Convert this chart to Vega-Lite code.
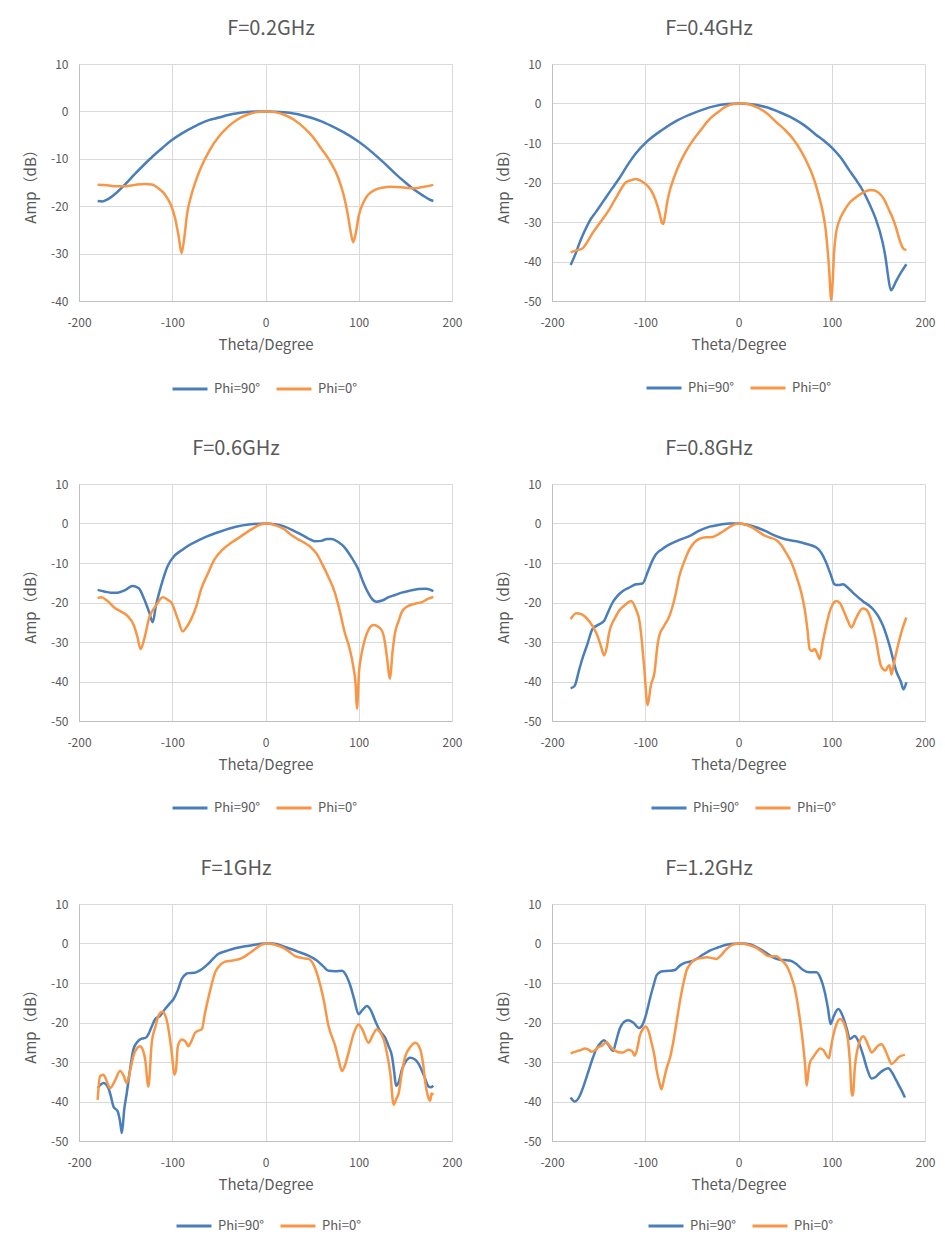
{
"$schema": "https://vega.github.io/schema/vega-lite/v6.json",
"padding": {"left": 23, "top": 19, "right": 5, "bottom": 5},
"background": "white",
"datasets": {
"d": [
{"p":"0.2","s":"Phi=90°","t":-180,"a":-18.9},{"p":"0.2","s":"Phi=90°","t":-175,"a":-19.0},{"p":"0.2","s":"Phi=90°","t":-170,"a":-18.6},{"p":"0.2","s":"Phi=90°","t":-160,"a":-17.2},{"p":"0.2","s":"Phi=90°","t":-150,"a":-15.3},{"p":"0.2","s":"Phi=90°","t":-140,"a":-13.2},{"p":"0.2","s":"Phi=90°","t":-130,"a":-11.2},{"p":"0.2","s":"Phi=90°","t":-120,"a":-9.3},{"p":"0.2","s":"Phi=90°","t":-110,"a":-7.6},{"p":"0.2","s":"Phi=90°","t":-100,"a":-6.0},{"p":"0.2","s":"Phi=90°","t":-90,"a":-4.7},{"p":"0.2","s":"Phi=90°","t":-80,"a":-3.6},{"p":"0.2","s":"Phi=90°","t":-70,"a":-2.6},{"p":"0.2","s":"Phi=90°","t":-60,"a":-1.8},{"p":"0.2","s":"Phi=90°","t":-50,"a":-1.3},{"p":"0.2","s":"Phi=90°","t":-40,"a":-0.75},{"p":"0.2","s":"Phi=90°","t":-30,"a":-0.38},{"p":"0.2","s":"Phi=90°","t":-20,"a":-0.15},{"p":"0.2","s":"Phi=90°","t":-10,"a":-0.04},{"p":"0.2","s":"Phi=90°","t":0,"a":0},{"p":"0.2","s":"Phi=90°","t":10,"a":-0.05},{"p":"0.2","s":"Phi=90°","t":20,"a":-0.2},{"p":"0.2","s":"Phi=90°","t":30,"a":-0.45},{"p":"0.2","s":"Phi=90°","t":40,"a":-0.85},{"p":"0.2","s":"Phi=90°","t":50,"a":-1.4},{"p":"0.2","s":"Phi=90°","t":60,"a":-2.1},{"p":"0.2","s":"Phi=90°","t":70,"a":-3.0},{"p":"0.2","s":"Phi=90°","t":80,"a":-4.0},{"p":"0.2","s":"Phi=90°","t":90,"a":-5.1},{"p":"0.2","s":"Phi=90°","t":100,"a":-6.4},{"p":"0.2","s":"Phi=90°","t":110,"a":-7.9},{"p":"0.2","s":"Phi=90°","t":120,"a":-9.6},{"p":"0.2","s":"Phi=90°","t":130,"a":-11.4},{"p":"0.2","s":"Phi=90°","t":140,"a":-13.3},{"p":"0.2","s":"Phi=90°","t":150,"a":-15.0},{"p":"0.2","s":"Phi=90°","t":160,"a":-16.6},{"p":"0.2","s":"Phi=90°","t":170,"a":-17.9},{"p":"0.2","s":"Phi=90°","t":175,"a":-18.5},{"p":"0.2","s":"Phi=90°","t":180,"a":-18.9},
{"p":"0.2","s":"Phi=0°","t":-180,"a":-15.5},{"p":"0.2","s":"Phi=0°","t":-170,"a":-15.6},{"p":"0.2","s":"Phi=0°","t":-160,"a":-15.8},{"p":"0.2","s":"Phi=0°","t":-150,"a":-15.8},{"p":"0.2","s":"Phi=0°","t":-140,"a":-15.5},{"p":"0.2","s":"Phi=0°","t":-130,"a":-15.3},{"p":"0.2","s":"Phi=0°","t":-122,"a":-15.4},{"p":"0.2","s":"Phi=0°","t":-115,"a":-16.2},{"p":"0.2","s":"Phi=0°","t":-108,"a":-17.5},{"p":"0.2","s":"Phi=0°","t":-102,"a":-19.5},{"p":"0.2","s":"Phi=0°","t":-97,"a":-22.5},{"p":"0.2","s":"Phi=0°","t":-93,"a":-26.5},{"p":"0.2","s":"Phi=0°","t":-90,"a":-29.9},{"p":"0.2","s":"Phi=0°","t":-87,"a":-26.5},{"p":"0.2","s":"Phi=0°","t":-84,"a":-21.5},{"p":"0.2","s":"Phi=0°","t":-80,"a":-18},{"p":"0.2","s":"Phi=0°","t":-75,"a":-14.8},{"p":"0.2","s":"Phi=0°","t":-70,"a":-12.2},{"p":"0.2","s":"Phi=0°","t":-60,"a":-8.2},{"p":"0.2","s":"Phi=0°","t":-50,"a":-5.3},{"p":"0.2","s":"Phi=0°","t":-40,"a":-3.2},{"p":"0.2","s":"Phi=0°","t":-30,"a":-1.7},{"p":"0.2","s":"Phi=0°","t":-20,"a":-0.7},{"p":"0.2","s":"Phi=0°","t":-10,"a":-0.15},{"p":"0.2","s":"Phi=0°","t":0,"a":0},{"p":"0.2","s":"Phi=0°","t":10,"a":-0.15},{"p":"0.2","s":"Phi=0°","t":20,"a":-0.7},{"p":"0.2","s":"Phi=0°","t":30,"a":-1.7},{"p":"0.2","s":"Phi=0°","t":40,"a":-3.2},{"p":"0.2","s":"Phi=0°","t":50,"a":-5.2},{"p":"0.2","s":"Phi=0°","t":60,"a":-7.9},{"p":"0.2","s":"Phi=0°","t":70,"a":-10.8},{"p":"0.2","s":"Phi=0°","t":78,"a":-14.0},{"p":"0.2","s":"Phi=0°","t":84,"a":-17.8},{"p":"0.2","s":"Phi=0°","t":88,"a":-21.5},{"p":"0.2","s":"Phi=0°","t":91,"a":-25},{"p":"0.2","s":"Phi=0°","t":94,"a":-27.6},{"p":"0.2","s":"Phi=0°","t":97,"a":-25.5},{"p":"0.2","s":"Phi=0°","t":100,"a":-22},{"p":"0.2","s":"Phi=0°","t":105,"a":-19.2},{"p":"0.2","s":"Phi=0°","t":110,"a":-17.6},{"p":"0.2","s":"Phi=0°","t":118,"a":-16.5},{"p":"0.2","s":"Phi=0°","t":125,"a":-16.1},{"p":"0.2","s":"Phi=0°","t":135,"a":-15.9},{"p":"0.2","s":"Phi=0°","t":150,"a":-16.1},{"p":"0.2","s":"Phi=0°","t":160,"a":-16.2},{"p":"0.2","s":"Phi=0°","t":170,"a":-15.9},{"p":"0.2","s":"Phi=0°","t":180,"a":-15.5},
{"p":"0.4","s":"Phi=90°","t":-180,"a":-40.9},{"p":"0.4","s":"Phi=90°","t":-175,"a":-38.2},{"p":"0.4","s":"Phi=90°","t":-170,"a":-35},{"p":"0.4","s":"Phi=90°","t":-165,"a":-32.3},{"p":"0.4","s":"Phi=90°","t":-160,"a":-29.9},{"p":"0.4","s":"Phi=90°","t":-153,"a":-27.5},{"p":"0.4","s":"Phi=90°","t":-146,"a":-25.1},{"p":"0.4","s":"Phi=90°","t":-137,"a":-22},{"p":"0.4","s":"Phi=90°","t":-128,"a":-19},{"p":"0.4","s":"Phi=90°","t":-119,"a":-15.6},{"p":"0.4","s":"Phi=90°","t":-110,"a":-12.6},{"p":"0.4","s":"Phi=90°","t":-98,"a":-9.6},{"p":"0.4","s":"Phi=90°","t":-82,"a":-6.7},{"p":"0.4","s":"Phi=90°","t":-68,"a":-4.6},{"p":"0.4","s":"Phi=90°","t":-53,"a":-2.9},{"p":"0.4","s":"Phi=90°","t":-39,"a":-1.6},{"p":"0.4","s":"Phi=90°","t":-24.5,"a":-0.6},{"p":"0.4","s":"Phi=90°","t":-12,"a":-0.15},{"p":"0.4","s":"Phi=90°","t":0,"a":0},{"p":"0.4","s":"Phi=90°","t":12,"a":-0.15},{"p":"0.4","s":"Phi=90°","t":29,"a":-0.9},{"p":"0.4","s":"Phi=90°","t":44,"a":-2.2},{"p":"0.4","s":"Phi=90°","t":58,"a":-3.7},{"p":"0.4","s":"Phi=90°","t":71,"a":-5.6},{"p":"0.4","s":"Phi=90°","t":83,"a":-7.9},{"p":"0.4","s":"Phi=90°","t":92,"a":-9.5},{"p":"0.4","s":"Phi=90°","t":100.6,"a":-11.3},{"p":"0.4","s":"Phi=90°","t":110,"a":-13.8},{"p":"0.4","s":"Phi=90°","t":118.5,"a":-16.8},{"p":"0.4","s":"Phi=90°","t":126,"a":-19.3},{"p":"0.4","s":"Phi=90°","t":133,"a":-21.9},{"p":"0.4","s":"Phi=90°","t":140,"a":-25.2},{"p":"0.4","s":"Phi=90°","t":147,"a":-29.1},{"p":"0.4","s":"Phi=90°","t":154,"a":-34.6},{"p":"0.4","s":"Phi=90°","t":158,"a":-39.5},{"p":"0.4","s":"Phi=90°","t":160,"a":-43},{"p":"0.4","s":"Phi=90°","t":163.4,"a":-47.3},{"p":"0.4","s":"Phi=90°","t":165,"a":-46.9},{"p":"0.4","s":"Phi=90°","t":168.8,"a":-45.1},{"p":"0.4","s":"Phi=90°","t":174,"a":-42.9},{"p":"0.4","s":"Phi=90°","t":180,"a":-40.7},
{"p":"0.4","s":"Phi=0°","t":-180,"a":-37.7},{"p":"0.4","s":"Phi=0°","t":-174,"a":-37.2},{"p":"0.4","s":"Phi=0°","t":-167.5,"a":-36.7},{"p":"0.4","s":"Phi=0°","t":-162,"a":-35},{"p":"0.4","s":"Phi=0°","t":-156.7,"a":-32.9},{"p":"0.4","s":"Phi=0°","t":-148,"a":-30},{"p":"0.4","s":"Phi=0°","t":-139,"a":-27},{"p":"0.4","s":"Phi=0°","t":-130,"a":-23.3},{"p":"0.4","s":"Phi=0°","t":-121,"a":-20},{"p":"0.4","s":"Phi=0°","t":-115,"a":-19.4},{"p":"0.4","s":"Phi=0°","t":-110,"a":-19.1},{"p":"0.4","s":"Phi=0°","t":-103,"a":-19.8},{"p":"0.4","s":"Phi=0°","t":-97,"a":-21},{"p":"0.4","s":"Phi=0°","t":-94,"a":-21.9},{"p":"0.4","s":"Phi=0°","t":-89,"a":-24.4},{"p":"0.4","s":"Phi=0°","t":-85,"a":-27.5},{"p":"0.4","s":"Phi=0°","t":-82,"a":-30.2},{"p":"0.4","s":"Phi=0°","t":-80.6,"a":-30.5},{"p":"0.4","s":"Phi=0°","t":-78.5,"a":-28},{"p":"0.4","s":"Phi=0°","t":-76,"a":-24.4},{"p":"0.4","s":"Phi=0°","t":-67.5,"a":-17.7},{"p":"0.4","s":"Phi=0°","t":-58,"a":-12.8},{"p":"0.4","s":"Phi=0°","t":-49.6,"a":-9.6},{"p":"0.4","s":"Phi=0°","t":-40,"a":-6.6},{"p":"0.4","s":"Phi=0°","t":-31.6,"a":-4.1},{"p":"0.4","s":"Phi=0°","t":-22,"a":-2.2},{"p":"0.4","s":"Phi=0°","t":-13.8,"a":-0.8},{"p":"0.4","s":"Phi=0°","t":-5,"a":-0.1},{"p":"0.4","s":"Phi=0°","t":4,"a":0},{"p":"0.4","s":"Phi=0°","t":13,"a":-0.3},{"p":"0.4","s":"Phi=0°","t":22,"a":-1.2},{"p":"0.4","s":"Phi=0°","t":31,"a":-2.6},{"p":"0.4","s":"Phi=0°","t":40,"a":-4.6},{"p":"0.4","s":"Phi=0°","t":49,"a":-6.5},{"p":"0.4","s":"Phi=0°","t":58,"a":-8.8},{"p":"0.4","s":"Phi=0°","t":67,"a":-12},{"p":"0.4","s":"Phi=0°","t":75.6,"a":-16},{"p":"0.4","s":"Phi=0°","t":81,"a":-19.2},{"p":"0.4","s":"Phi=0°","t":86,"a":-23.2},{"p":"0.4","s":"Phi=0°","t":90,"a":-27},{"p":"0.4","s":"Phi=0°","t":93.5,"a":-32},{"p":"0.4","s":"Phi=0°","t":97,"a":-41.3},{"p":"0.4","s":"Phi=0°","t":99.5,"a":-49.8},{"p":"0.4","s":"Phi=0°","t":101,"a":-45},{"p":"0.4","s":"Phi=0°","t":102.4,"a":-38},{"p":"0.4","s":"Phi=0°","t":104.5,"a":-33},{"p":"0.4","s":"Phi=0°","t":107.8,"a":-29.9},{"p":"0.4","s":"Phi=0°","t":113,"a":-27.3},{"p":"0.4","s":"Phi=0°","t":118.5,"a":-25.3},{"p":"0.4","s":"Phi=0°","t":125,"a":-23.9},{"p":"0.4","s":"Phi=0°","t":133,"a":-22.6},{"p":"0.4","s":"Phi=0°","t":141.7,"a":-21.9},{"p":"0.4","s":"Phi=0°","t":146,"a":-22},{"p":"0.4","s":"Phi=0°","t":150.7,"a":-22.7},{"p":"0.4","s":"Phi=0°","t":156,"a":-24.2},{"p":"0.4","s":"Phi=0°","t":161.5,"a":-27},{"p":"0.4","s":"Phi=0°","t":165,"a":-28.8},{"p":"0.4","s":"Phi=0°","t":168.6,"a":-31.2},{"p":"0.4","s":"Phi=0°","t":174,"a":-35.4},{"p":"0.4","s":"Phi=0°","t":177,"a":-36.8},{"p":"0.4","s":"Phi=0°","t":180,"a":-37.1},
{"p":"0.6","s":"Phi=90°","t":-180,"a":-16.8},{"p":"0.6","s":"Phi=90°","t":-173,"a":-17.2},{"p":"0.6","s":"Phi=90°","t":-166,"a":-17.5},{"p":"0.6","s":"Phi=90°","t":-158.7,"a":-17.5},{"p":"0.6","s":"Phi=90°","t":-150,"a":-16.8},{"p":"0.6","s":"Phi=90°","t":-142.6,"a":-15.8},{"p":"0.6","s":"Phi=90°","t":-138,"a":-16.1},{"p":"0.6","s":"Phi=90°","t":-135.5,"a":-16.5},{"p":"0.6","s":"Phi=90°","t":-130,"a":-19.2},{"p":"0.6","s":"Phi=90°","t":-124.7,"a":-22.5},{"p":"0.6","s":"Phi=90°","t":-121,"a":-25},{"p":"0.6","s":"Phi=90°","t":-117.5,"a":-20.8},{"p":"0.6","s":"Phi=90°","t":-112,"a":-15.8},{"p":"0.6","s":"Phi=90°","t":-105,"a":-10.8},{"p":"0.6","s":"Phi=90°","t":-97.8,"a":-8.2},{"p":"0.6","s":"Phi=90°","t":-90,"a":-6.8},{"p":"0.6","s":"Phi=90°","t":-83.4,"a":-5.7},{"p":"0.6","s":"Phi=90°","t":-72,"a":-4.3},{"p":"0.6","s":"Phi=90°","t":-62,"a":-3.2},{"p":"0.6","s":"Phi=90°","t":-48,"a":-2},{"p":"0.6","s":"Phi=90°","t":-33,"a":-0.9},{"p":"0.6","s":"Phi=90°","t":-16,"a":-0.2},{"p":"0.6","s":"Phi=90°","t":0,"a":0},{"p":"0.6","s":"Phi=90°","t":10,"a":-0.2},{"p":"0.6","s":"Phi=90°","t":20.6,"a":-0.8},{"p":"0.6","s":"Phi=90°","t":30,"a":-1.8},{"p":"0.6","s":"Phi=90°","t":38.6,"a":-2.8},{"p":"0.6","s":"Phi=90°","t":46,"a":-3.8},{"p":"0.6","s":"Phi=90°","t":53,"a":-4.5},{"p":"0.6","s":"Phi=90°","t":60,"a":-4.4},{"p":"0.6","s":"Phi=90°","t":66,"a":-3.9},{"p":"0.6","s":"Phi=90°","t":71,"a":-3.9},{"p":"0.6","s":"Phi=90°","t":78,"a":-4.7},{"p":"0.6","s":"Phi=90°","t":85,"a":-6.1},{"p":"0.6","s":"Phi=90°","t":92,"a":-8.5},{"p":"0.6","s":"Phi=90°","t":99.5,"a":-11.6},{"p":"0.6","s":"Phi=90°","t":105,"a":-15},{"p":"0.6","s":"Phi=90°","t":110,"a":-17.5},{"p":"0.6","s":"Phi=90°","t":115,"a":-19.3},{"p":"0.6","s":"Phi=90°","t":119,"a":-19.8},{"p":"0.6","s":"Phi=90°","t":125,"a":-19.5},{"p":"0.6","s":"Phi=90°","t":131.6,"a":-18.7},{"p":"0.6","s":"Phi=90°","t":139,"a":-18.1},{"p":"0.6","s":"Phi=90°","t":146,"a":-17.5},{"p":"0.6","s":"Phi=90°","t":155,"a":-17},{"p":"0.6","s":"Phi=90°","t":164,"a":-16.6},{"p":"0.6","s":"Phi=90°","t":172,"a":-16.5},{"p":"0.6","s":"Phi=90°","t":180,"a":-17.1},
{"p":"0.6","s":"Phi=0°","t":-180,"a":-18.9},{"p":"0.6","s":"Phi=0°","t":-176,"a":-18.7},{"p":"0.6","s":"Phi=0°","t":-170,"a":-19.5},{"p":"0.6","s":"Phi=0°","t":-162,"a":-21.3},{"p":"0.6","s":"Phi=0°","t":-155,"a":-22.3},{"p":"0.6","s":"Phi=0°","t":-148,"a":-23.4},{"p":"0.6","s":"Phi=0°","t":-141,"a":-25.9},{"p":"0.6","s":"Phi=0°","t":-137.3,"a":-28.8},{"p":"0.6","s":"Phi=0°","t":-134,"a":-31.8},{"p":"0.6","s":"Phi=0°","t":-130,"a":-29.2},{"p":"0.6","s":"Phi=0°","t":-124.7,"a":-23.8},{"p":"0.6","s":"Phi=0°","t":-117.5,"a":-20.8},{"p":"0.6","s":"Phi=0°","t":-110,"a":-18.7},{"p":"0.6","s":"Phi=0°","t":-105,"a":-19.3},{"p":"0.6","s":"Phi=0°","t":-101,"a":-20},{"p":"0.6","s":"Phi=0°","t":-94,"a":-24.2},{"p":"0.6","s":"Phi=0°","t":-88.7,"a":-27.3},{"p":"0.6","s":"Phi=0°","t":-84,"a":-26},{"p":"0.6","s":"Phi=0°","t":-79.7,"a":-24.2},{"p":"0.6","s":"Phi=0°","t":-74,"a":-20.8},{"p":"0.6","s":"Phi=0°","t":-69,"a":-16.6},{"p":"0.6","s":"Phi=0°","t":-62,"a":-12.8},{"p":"0.6","s":"Phi=0°","t":-54.7,"a":-9.1},{"p":"0.6","s":"Phi=0°","t":-46,"a":-6.6},{"p":"0.6","s":"Phi=0°","t":-36.8,"a":-4.9},{"p":"0.6","s":"Phi=0°","t":-26,"a":-3.2},{"p":"0.6","s":"Phi=0°","t":-15.2,"a":-1.5},{"p":"0.6","s":"Phi=0°","t":-6,"a":-0.3},{"p":"0.6","s":"Phi=0°","t":2.7,"a":0},{"p":"0.6","s":"Phi=0°","t":10,"a":-0.4},{"p":"0.6","s":"Phi=0°","t":20.6,"a":-1.5},{"p":"0.6","s":"Phi=0°","t":28,"a":-3},{"p":"0.6","s":"Phi=0°","t":35,"a":-4},{"p":"0.6","s":"Phi=0°","t":42,"a":-4.9},{"p":"0.6","s":"Phi=0°","t":49,"a":-6.1},{"p":"0.6","s":"Phi=0°","t":55,"a":-7.7},{"p":"0.6","s":"Phi=0°","t":60,"a":-9.9},{"p":"0.6","s":"Phi=0°","t":67,"a":-13.3},{"p":"0.6","s":"Phi=0°","t":74.4,"a":-17.5},{"p":"0.6","s":"Phi=0°","t":80,"a":-22.5},{"p":"0.6","s":"Phi=0°","t":85,"a":-27.6},{"p":"0.6","s":"Phi=0°","t":90,"a":-31.5},{"p":"0.6","s":"Phi=0°","t":94,"a":-36},{"p":"0.6","s":"Phi=0°","t":96.7,"a":-41},{"p":"0.6","s":"Phi=0°","t":98,"a":-46.9},{"p":"0.6","s":"Phi=0°","t":100.3,"a":-37.6},{"p":"0.6","s":"Phi=0°","t":103,"a":-33},{"p":"0.6","s":"Phi=0°","t":106.8,"a":-29.2},{"p":"0.6","s":"Phi=0°","t":111,"a":-26.7},{"p":"0.6","s":"Phi=0°","t":115.8,"a":-25.7},{"p":"0.6","s":"Phi=0°","t":120,"a":-26},{"p":"0.6","s":"Phi=0°","t":124.8,"a":-27.1},{"p":"0.6","s":"Phi=0°","t":128,"a":-30},{"p":"0.6","s":"Phi=0°","t":130,"a":-33.4},{"p":"0.6","s":"Phi=0°","t":133.6,"a":-39.3},{"p":"0.6","s":"Phi=0°","t":136,"a":-33},{"p":"0.6","s":"Phi=0°","t":139,"a":-27.6},{"p":"0.6","s":"Phi=0°","t":143,"a":-24.5},{"p":"0.6","s":"Phi=0°","t":146,"a":-22.5},{"p":"0.6","s":"Phi=0°","t":152,"a":-21},{"p":"0.6","s":"Phi=0°","t":160.5,"a":-20.3},{"p":"0.6","s":"Phi=0°","t":168,"a":-19.9},{"p":"0.6","s":"Phi=0°","t":174,"a":-19.1},{"p":"0.6","s":"Phi=0°","t":180,"a":-18.6},
{"p":"0.8","s":"Phi=90°","t":-180,"a":-41.7},{"p":"0.8","s":"Phi=90°","t":-176,"a":-41.2},{"p":"0.8","s":"Phi=90°","t":-170.6,"a":-36.8},{"p":"0.8","s":"Phi=90°","t":-167,"a":-33.9},{"p":"0.8","s":"Phi=90°","t":-162,"a":-30.5},{"p":"0.8","s":"Phi=90°","t":-156.6,"a":-26.7},{"p":"0.8","s":"Phi=90°","t":-150,"a":-25.6},{"p":"0.8","s":"Phi=90°","t":-144,"a":-24.6},{"p":"0.8","s":"Phi=90°","t":-140,"a":-22.5},{"p":"0.8","s":"Phi=90°","t":-135,"a":-20},{"p":"0.8","s":"Phi=90°","t":-130,"a":-18.4},{"p":"0.8","s":"Phi=90°","t":-124,"a":-17.1},{"p":"0.8","s":"Phi=90°","t":-117,"a":-16.2},{"p":"0.8","s":"Phi=90°","t":-110,"a":-15.4},{"p":"0.8","s":"Phi=90°","t":-103,"a":-15.2},{"p":"0.8","s":"Phi=90°","t":-97,"a":-12},{"p":"0.8","s":"Phi=90°","t":-92,"a":-9.2},{"p":"0.8","s":"Phi=90°","t":-88.5,"a":-7.8},{"p":"0.8","s":"Phi=90°","t":-82,"a":-6.5},{"p":"0.8","s":"Phi=90°","t":-74,"a":-5.3},{"p":"0.8","s":"Phi=90°","t":-64,"a":-4.2},{"p":"0.8","s":"Phi=90°","t":-52.7,"a":-3.2},{"p":"0.8","s":"Phi=90°","t":-42,"a":-1.8},{"p":"0.8","s":"Phi=90°","t":-31,"a":-0.8},{"p":"0.8","s":"Phi=90°","t":-20,"a":-0.3},{"p":"0.8","s":"Phi=90°","t":-9.7,"a":0},{"p":"0.8","s":"Phi=90°","t":0,"a":0},{"p":"0.8","s":"Phi=90°","t":15.4,"a":-0.7},{"p":"0.8","s":"Phi=90°","t":28,"a":-1.8},{"p":"0.8","s":"Phi=90°","t":40.5,"a":-3.2},{"p":"0.8","s":"Phi=90°","t":50,"a":-4},{"p":"0.8","s":"Phi=90°","t":62,"a":-4.5},{"p":"0.8","s":"Phi=90°","t":73,"a":-5.2},{"p":"0.8","s":"Phi=90°","t":83.5,"a":-6.1},{"p":"0.8","s":"Phi=90°","t":89,"a":-7.5},{"p":"0.8","s":"Phi=90°","t":94,"a":-9.9},{"p":"0.8","s":"Phi=90°","t":99,"a":-13},{"p":"0.8","s":"Phi=90°","t":103,"a":-15.4},{"p":"0.8","s":"Phi=90°","t":107,"a":-15.6},{"p":"0.8","s":"Phi=90°","t":112,"a":-15.4},{"p":"0.8","s":"Phi=90°","t":117,"a":-16.2},{"p":"0.8","s":"Phi=90°","t":122.6,"a":-17.5},{"p":"0.8","s":"Phi=90°","t":133,"a":-19.6},{"p":"0.8","s":"Phi=90°","t":144.4,"a":-21.7},{"p":"0.8","s":"Phi=90°","t":150,"a":-23.5},{"p":"0.8","s":"Phi=90°","t":155,"a":-25.9},{"p":"0.8","s":"Phi=90°","t":162,"a":-30.9},{"p":"0.8","s":"Phi=90°","t":169.5,"a":-37.6},{"p":"0.8","s":"Phi=90°","t":174,"a":-40},{"p":"0.8","s":"Phi=90°","t":177,"a":-42},{"p":"0.8","s":"Phi=90°","t":180,"a":-40.2},
{"p":"0.8","s":"Phi=0°","t":-180,"a":-24.2},{"p":"0.8","s":"Phi=0°","t":-174,"a":-22.7},{"p":"0.8","s":"Phi=0°","t":-168,"a":-23},{"p":"0.8","s":"Phi=0°","t":-163.6,"a":-23.8},{"p":"0.8","s":"Phi=0°","t":-156.6,"a":-25.9},{"p":"0.8","s":"Phi=0°","t":-152,"a":-28},{"p":"0.8","s":"Phi=0°","t":-147.7,"a":-30.9},{"p":"0.8","s":"Phi=0°","t":-144,"a":-33.4},{"p":"0.8","s":"Phi=0°","t":-141,"a":-31},{"p":"0.8","s":"Phi=0°","t":-138.7,"a":-27.6},{"p":"0.8","s":"Phi=0°","t":-133,"a":-24.2},{"p":"0.8","s":"Phi=0°","t":-128,"a":-22.1},{"p":"0.8","s":"Phi=0°","t":-121,"a":-20.5},{"p":"0.8","s":"Phi=0°","t":-115.4,"a":-19.6},{"p":"0.8","s":"Phi=0°","t":-110,"a":-21.7},{"p":"0.8","s":"Phi=0°","t":-106,"a":-25},{"p":"0.8","s":"Phi=0°","t":-104.6,"a":-27.6},{"p":"0.8","s":"Phi=0°","t":-101,"a":-36.8},{"p":"0.8","s":"Phi=0°","t":-97.5,"a":-46},{"p":"0.8","s":"Phi=0°","t":-94,"a":-41},{"p":"0.8","s":"Phi=0°","t":-90,"a":-37.6},{"p":"0.8","s":"Phi=0°","t":-87,"a":-31},{"p":"0.8","s":"Phi=0°","t":-85,"a":-28.4},{"p":"0.8","s":"Phi=0°","t":-80,"a":-26},{"p":"0.8","s":"Phi=0°","t":-74,"a":-23.4},{"p":"0.8","s":"Phi=0°","t":-68,"a":-18.5},{"p":"0.8","s":"Phi=0°","t":-63.4,"a":-13.3},{"p":"0.8","s":"Phi=0°","t":-58,"a":-9.5},{"p":"0.8","s":"Phi=0°","t":-52.7,"a":-6.6},{"p":"0.8","s":"Phi=0°","t":-47,"a":-4.7},{"p":"0.8","s":"Phi=0°","t":-42,"a":-3.9},{"p":"0.8","s":"Phi=0°","t":-35,"a":-3.5},{"p":"0.8","s":"Phi=0°","t":-27.6,"a":-3.4},{"p":"0.8","s":"Phi=0°","t":-20,"a":-2.5},{"p":"0.8","s":"Phi=0°","t":-13.3,"a":-1.5},{"p":"0.8","s":"Phi=0°","t":-6,"a":-0.4},{"p":"0.8","s":"Phi=0°","t":1,"a":0},{"p":"0.8","s":"Phi=0°","t":8,"a":-0.3},{"p":"0.8","s":"Phi=0°","t":15.4,"a":-1.1},{"p":"0.8","s":"Phi=0°","t":20,"a":-1.8},{"p":"0.8","s":"Phi=0°","t":26,"a":-2.8},{"p":"0.8","s":"Phi=0°","t":33,"a":-3.5},{"p":"0.8","s":"Phi=0°","t":40.5,"a":-4.2},{"p":"0.8","s":"Phi=0°","t":46,"a":-5.5},{"p":"0.8","s":"Phi=0°","t":51,"a":-7.4},{"p":"0.8","s":"Phi=0°","t":57,"a":-10},{"p":"0.8","s":"Phi=0°","t":62,"a":-13.3},{"p":"0.8","s":"Phi=0°","t":67,"a":-17.2},{"p":"0.8","s":"Phi=0°","t":71,"a":-21.7},{"p":"0.8","s":"Phi=0°","t":74,"a":-27},{"p":"0.8","s":"Phi=0°","t":76.3,"a":-31.8},{"p":"0.8","s":"Phi=0°","t":79,"a":-32.3},{"p":"0.8","s":"Phi=0°","t":81.7,"a":-31.8},{"p":"0.8","s":"Phi=0°","t":84.5,"a":-33},{"p":"0.8","s":"Phi=0°","t":87,"a":-34.3},{"p":"0.8","s":"Phi=0°","t":90,"a":-30.5},{"p":"0.8","s":"Phi=0°","t":94,"a":-25.9},{"p":"0.8","s":"Phi=0°","t":99,"a":-21.5},{"p":"0.8","s":"Phi=0°","t":105,"a":-19.6},{"p":"0.8","s":"Phi=0°","t":109,"a":-20.2},{"p":"0.8","s":"Phi=0°","t":112,"a":-21.7},{"p":"0.8","s":"Phi=0°","t":117,"a":-24.5},{"p":"0.8","s":"Phi=0°","t":121,"a":-26.3},{"p":"0.8","s":"Phi=0°","t":126,"a":-24},{"p":"0.8","s":"Phi=0°","t":133,"a":-21.5},{"p":"0.8","s":"Phi=0°","t":137,"a":-21.8},{"p":"0.8","s":"Phi=0°","t":142,"a":-24.2},{"p":"0.8","s":"Phi=0°","t":147,"a":-29},{"p":"0.8","s":"Phi=0°","t":152.6,"a":-35.9},{"p":"0.8","s":"Phi=0°","t":155.5,"a":-37},{"p":"0.8","s":"Phi=0°","t":158,"a":-37.2},{"p":"0.8","s":"Phi=0°","t":160,"a":-36.3},{"p":"0.8","s":"Phi=0°","t":162,"a":-35.9},{"p":"0.8","s":"Phi=0°","t":164,"a":-38.2},{"p":"0.8","s":"Phi=0°","t":167,"a":-35},{"p":"0.8","s":"Phi=0°","t":171,"a":-30.9},{"p":"0.8","s":"Phi=0°","t":176,"a":-26.5},{"p":"0.8","s":"Phi=0°","t":180,"a":-23.8},
{"p":"1","s":"Phi=90°","t":-180,"a":-36.6},{"p":"1","s":"Phi=90°","t":-177,"a":-35.8},{"p":"1","s":"Phi=90°","t":-173.9,"a":-35.3},{"p":"1","s":"Phi=90°","t":-168.5,"a":-36.6},{"p":"1","s":"Phi=90°","t":-166,"a":-38.5},{"p":"1","s":"Phi=90°","t":-163,"a":-41.3},{"p":"1","s":"Phi=90°","t":-158.5,"a":-42.5},{"p":"1","s":"Phi=90°","t":-156,"a":-45},{"p":"1","s":"Phi=90°","t":-154,"a":-48},{"p":"1","s":"Phi=90°","t":-151.5,"a":-42},{"p":"1","s":"Phi=90°","t":-148.8,"a":-37.9},{"p":"1","s":"Phi=90°","t":-145,"a":-31.5},{"p":"1","s":"Phi=90°","t":-141.7,"a":-26.8},{"p":"1","s":"Phi=90°","t":-137,"a":-24.8},{"p":"1","s":"Phi=90°","t":-132.7,"a":-24.1},{"p":"1","s":"Phi=90°","t":-128,"a":-23.8},{"p":"1","s":"Phi=90°","t":-125.6,"a":-23},{"p":"1","s":"Phi=90°","t":-122,"a":-21},{"p":"1","s":"Phi=90°","t":-118.4,"a":-19.2},{"p":"1","s":"Phi=90°","t":-113,"a":-18.3},{"p":"1","s":"Phi=90°","t":-107.7,"a":-16.6},{"p":"1","s":"Phi=90°","t":-102,"a":-15},{"p":"1","s":"Phi=90°","t":-98.7,"a":-14.1},{"p":"1","s":"Phi=90°","t":-94,"a":-11.8},{"p":"1","s":"Phi=90°","t":-89.8,"a":-9},{"p":"1","s":"Phi=90°","t":-85,"a":-7.7},{"p":"1","s":"Phi=90°","t":-82.6,"a":-7.5},{"p":"1","s":"Phi=90°","t":-76,"a":-7.4},{"p":"1","s":"Phi=90°","t":-68.3,"a":-6.5},{"p":"1","s":"Phi=90°","t":-60,"a":-4.8},{"p":"1","s":"Phi=90°","t":-50.4,"a":-2.6},{"p":"1","s":"Phi=90°","t":-42,"a":-1.9},{"p":"1","s":"Phi=90°","t":-32.6,"a":-1.2},{"p":"1","s":"Phi=90°","t":-16,"a":-0.5},{"p":"1","s":"Phi=90°","t":0,"a":0},{"p":"1","s":"Phi=90°","t":8,"a":0},{"p":"1","s":"Phi=90°","t":21,"a":-0.9},{"p":"1","s":"Phi=90°","t":34,"a":-2},{"p":"1","s":"Phi=90°","t":46,"a":-3.1},{"p":"1","s":"Phi=90°","t":55,"a":-4.3},{"p":"1","s":"Phi=90°","t":62,"a":-5.8},{"p":"1","s":"Phi=90°","t":67.6,"a":-6.9},{"p":"1","s":"Phi=90°","t":75,"a":-7},{"p":"1","s":"Phi=90°","t":82,"a":-6.9},{"p":"1","s":"Phi=90°","t":87,"a":-8.3},{"p":"1","s":"Phi=90°","t":91,"a":-10.7},{"p":"1","s":"Phi=90°","t":95,"a":-14},{"p":"1","s":"Phi=90°","t":99.8,"a":-17.9},{"p":"1","s":"Phi=90°","t":104,"a":-16.8},{"p":"1","s":"Phi=90°","t":108.8,"a":-15.8},{"p":"1","s":"Phi=90°","t":113,"a":-16.9},{"p":"1","s":"Phi=90°","t":117.7,"a":-19.6},{"p":"1","s":"Phi=90°","t":123,"a":-22.2},{"p":"1","s":"Phi=90°","t":128.4,"a":-23.9},{"p":"1","s":"Phi=90°","t":132,"a":-26},{"p":"1","s":"Phi=90°","t":135.6,"a":-28.5},{"p":"1","s":"Phi=90°","t":138,"a":-32.5},{"p":"1","s":"Phi=90°","t":140,"a":-36},{"p":"1","s":"Phi=90°","t":143,"a":-35},{"p":"1","s":"Phi=90°","t":146.3,"a":-31.9},{"p":"1","s":"Phi=90°","t":150,"a":-30},{"p":"1","s":"Phi=90°","t":155.2,"a":-28.9},{"p":"1","s":"Phi=90°","t":160,"a":-29.3},{"p":"1","s":"Phi=90°","t":164,"a":-30.4},{"p":"1","s":"Phi=90°","t":170,"a":-33.5},{"p":"1","s":"Phi=90°","t":174.9,"a":-36.2},{"p":"1","s":"Phi=90°","t":177,"a":-36.4},{"p":"1","s":"Phi=90°","t":180,"a":-36},
{"p":"1","s":"Phi=0°","t":-180,"a":-39.6},{"p":"1","s":"Phi=0°","t":-177.5,"a":-33.6},{"p":"1","s":"Phi=0°","t":-173.9,"a":-33.2},{"p":"1","s":"Phi=0°","t":-170,"a":-35},{"p":"1","s":"Phi=0°","t":-166.7,"a":-36.6},{"p":"1","s":"Phi=0°","t":-161,"a":-34.5},{"p":"1","s":"Phi=0°","t":-156,"a":-32.3},{"p":"1","s":"Phi=0°","t":-152,"a":-33.5},{"p":"1","s":"Phi=0°","t":-148.8,"a":-35.3},{"p":"1","s":"Phi=0°","t":-145,"a":-32},{"p":"1","s":"Phi=0°","t":-141.7,"a":-28.5},{"p":"1","s":"Phi=0°","t":-137,"a":-26.3},{"p":"1","s":"Phi=0°","t":-134.5,"a":-26},{"p":"1","s":"Phi=0°","t":-131,"a":-27.3},{"p":"1","s":"Phi=0°","t":-129,"a":-29.4},{"p":"1","s":"Phi=0°","t":-125.6,"a":-36.2},{"p":"1","s":"Phi=0°","t":-122,"a":-25.1},{"p":"1","s":"Phi=0°","t":-118,"a":-21},{"p":"1","s":"Phi=0°","t":-114.8,"a":-18.3},{"p":"1","s":"Phi=0°","t":-110.6,"a":-17.3},{"p":"1","s":"Phi=0°","t":-107,"a":-18.5},{"p":"1","s":"Phi=0°","t":-104,"a":-21.7},{"p":"1","s":"Phi=0°","t":-100.5,"a":-27.7},{"p":"1","s":"Phi=0°","t":-97.7,"a":-33.2},{"p":"1","s":"Phi=0°","t":-96,"a":-32},{"p":"1","s":"Phi=0°","t":-94,"a":-26},{"p":"1","s":"Phi=0°","t":-89.8,"a":-24.3},{"p":"1","s":"Phi=0°","t":-86,"a":-24.8},{"p":"1","s":"Phi=0°","t":-82.6,"a":-26},{"p":"1","s":"Phi=0°","t":-79,"a":-24.5},{"p":"1","s":"Phi=0°","t":-75.5,"a":-22.6},{"p":"1","s":"Phi=0°","t":-70,"a":-21.9},{"p":"1","s":"Phi=0°","t":-68.3,"a":-21.7},{"p":"1","s":"Phi=0°","t":-64.8,"a":-17.5},{"p":"1","s":"Phi=0°","t":-60,"a":-12.5},{"p":"1","s":"Phi=0°","t":-54,"a":-7.3},{"p":"1","s":"Phi=0°","t":-48,"a":-5.3},{"p":"1","s":"Phi=0°","t":-43.3,"a":-4.6},{"p":"1","s":"Phi=0°","t":-35,"a":-4.3},{"p":"1","s":"Phi=0°","t":-25.4,"a":-3.7},{"p":"1","s":"Phi=0°","t":-18,"a":-2.6},{"p":"1","s":"Phi=0°","t":-11,"a":-1.4},{"p":"1","s":"Phi=0°","t":-4,"a":-0.3},{"p":"1","s":"Phi=0°","t":3.2,"a":0},{"p":"1","s":"Phi=0°","t":10,"a":-0.3},{"p":"1","s":"Phi=0°","t":17.5,"a":-0.9},{"p":"1","s":"Phi=0°","t":25,"a":-2},{"p":"1","s":"Phi=0°","t":31.8,"a":-3.2},{"p":"1","s":"Phi=0°","t":40,"a":-3.7},{"p":"1","s":"Phi=0°","t":46,"a":-3.9},{"p":"1","s":"Phi=0°","t":52,"a":-5.6},{"p":"1","s":"Phi=0°","t":57,"a":-9},{"p":"1","s":"Phi=0°","t":62,"a":-13.8},{"p":"1","s":"Phi=0°","t":67.6,"a":-20.9},{"p":"1","s":"Phi=0°","t":74.8,"a":-26},{"p":"1","s":"Phi=0°","t":78,"a":-29},{"p":"1","s":"Phi=0°","t":82,"a":-32.3},{"p":"1","s":"Phi=0°","t":85,"a":-31},{"p":"1","s":"Phi=0°","t":89,"a":-27.7},{"p":"1","s":"Phi=0°","t":95,"a":-22.5},{"p":"1","s":"Phi=0°","t":99.8,"a":-20.5},{"p":"1","s":"Phi=0°","t":104,"a":-21.8},{"p":"1","s":"Phi=0°","t":110.5,"a":-25.1},{"p":"1","s":"Phi=0°","t":115,"a":-23.2},{"p":"1","s":"Phi=0°","t":119.5,"a":-21.7},{"p":"1","s":"Phi=0°","t":123,"a":-22.5},{"p":"1","s":"Phi=0°","t":126.7,"a":-24.3},{"p":"1","s":"Phi=0°","t":130,"a":-27.5},{"p":"1","s":"Phi=0°","t":133.8,"a":-32.8},{"p":"1","s":"Phi=0°","t":137.4,"a":-40.8},{"p":"1","s":"Phi=0°","t":140,"a":-39.5},{"p":"1","s":"Phi=0°","t":142.8,"a":-37.9},{"p":"1","s":"Phi=0°","t":146,"a":-33},{"p":"1","s":"Phi=0°","t":150,"a":-28.5},{"p":"1","s":"Phi=0°","t":155,"a":-26.3},{"p":"1","s":"Phi=0°","t":160.7,"a":-25.1},{"p":"1","s":"Phi=0°","t":166,"a":-26.8},{"p":"1","s":"Phi=0°","t":169,"a":-30.5},{"p":"1","s":"Phi=0°","t":171.4,"a":-35.3},{"p":"1","s":"Phi=0°","t":174,"a":-38.5},{"p":"1","s":"Phi=0°","t":176.7,"a":-39.8},{"p":"1","s":"Phi=0°","t":178,"a":-38},{"p":"1","s":"Phi=0°","t":180,"a":-38.3},
{"p":"1.2","s":"Phi=90°","t":-180,"a":-39},{"p":"1.2","s":"Phi=90°","t":-175.7,"a":-40},{"p":"1.2","s":"Phi=90°","t":-170.3,"a":-38.6},{"p":"1.2","s":"Phi=90°","t":-166,"a":-36},{"p":"1.2","s":"Phi=90°","t":-161.4,"a":-32.7},{"p":"1.2","s":"Phi=90°","t":-157,"a":-29.5},{"p":"1.2","s":"Phi=90°","t":-152.4,"a":-26.7},{"p":"1.2","s":"Phi=90°","t":-148,"a":-25.2},{"p":"1.2","s":"Phi=90°","t":-144.5,"a":-24.5},{"p":"1.2","s":"Phi=90°","t":-140,"a":-25.5},{"p":"1.2","s":"Phi=90°","t":-134.5,"a":-27.2},{"p":"1.2","s":"Phi=90°","t":-131,"a":-24.5},{"p":"1.2","s":"Phi=90°","t":-127.3,"a":-21.5},{"p":"1.2","s":"Phi=90°","t":-123,"a":-19.9},{"p":"1.2","s":"Phi=90°","t":-118.4,"a":-19.4},{"p":"1.2","s":"Phi=90°","t":-113,"a":-20},{"p":"1.2","s":"Phi=90°","t":-106.6,"a":-21.4},{"p":"1.2","s":"Phi=90°","t":-103,"a":-20.6},{"p":"1.2","s":"Phi=90°","t":-100.5,"a":-19.1},{"p":"1.2","s":"Phi=90°","t":-97,"a":-16},{"p":"1.2","s":"Phi=90°","t":-95,"a":-14},{"p":"1.2","s":"Phi=90°","t":-91,"a":-10.5},{"p":"1.2","s":"Phi=90°","t":-87.9,"a":-8.1},{"p":"1.2","s":"Phi=90°","t":-84,"a":-7.2},{"p":"1.2","s":"Phi=90°","t":-80.9,"a":-7},{"p":"1.2","s":"Phi=90°","t":-74,"a":-6.9},{"p":"1.2","s":"Phi=90°","t":-68.3,"a":-6.7},{"p":"1.2","s":"Phi=90°","t":-63,"a":-5.6},{"p":"1.2","s":"Phi=90°","t":-57.6,"a":-4.9},{"p":"1.2","s":"Phi=90°","t":-50,"a":-4.5},{"p":"1.2","s":"Phi=90°","t":-45,"a":-3.9},{"p":"1.2","s":"Phi=90°","t":-38,"a":-2.8},{"p":"1.2","s":"Phi=90°","t":-30.8,"a":-1.8},{"p":"1.2","s":"Phi=90°","t":-22,"a":-1},{"p":"1.2","s":"Phi=90°","t":-12.9,"a":-0.3},{"p":"1.2","s":"Phi=90°","t":-4,"a":-0.05},{"p":"1.2","s":"Phi=90°","t":5,"a":0},{"p":"1.2","s":"Phi=90°","t":12,"a":-0.2},{"p":"1.2","s":"Phi=90°","t":19.3,"a":-0.9},{"p":"1.2","s":"Phi=90°","t":26,"a":-1.8},{"p":"1.2","s":"Phi=90°","t":33.6,"a":-3},{"p":"1.2","s":"Phi=90°","t":40,"a":-3.8},{"p":"1.2","s":"Phi=90°","t":44.4,"a":-4.1},{"p":"1.2","s":"Phi=90°","t":50,"a":-4.2},{"p":"1.2","s":"Phi=90°","t":55,"a":-4.3},{"p":"1.2","s":"Phi=90°","t":62,"a":-5.2},{"p":"1.2","s":"Phi=90°","t":69.4,"a":-6.7},{"p":"1.2","s":"Phi=90°","t":76,"a":-7.3},{"p":"1.2","s":"Phi=90°","t":83.7,"a":-7.3},{"p":"1.2","s":"Phi=90°","t":88,"a":-8.8},{"p":"1.2","s":"Phi=90°","t":92.6,"a":-12.4},{"p":"1.2","s":"Phi=90°","t":96,"a":-16.5},{"p":"1.2","s":"Phi=90°","t":98.7,"a":-20.4},{"p":"1.2","s":"Phi=90°","t":102,"a":-18.5},{"p":"1.2","s":"Phi=90°","t":107,"a":-16.6},{"p":"1.2","s":"Phi=90°","t":112.3,"a":-18.7},{"p":"1.2","s":"Phi=90°","t":116,"a":-21.5},{"p":"1.2","s":"Phi=90°","t":119.5,"a":-24.2},{"p":"1.2","s":"Phi=90°","t":122,"a":-23.8},{"p":"1.2","s":"Phi=90°","t":124.8,"a":-23.4},{"p":"1.2","s":"Phi=90°","t":128,"a":-24.5},{"p":"1.2","s":"Phi=90°","t":133.8,"a":-28.4},{"p":"1.2","s":"Phi=90°","t":138,"a":-31.8},{"p":"1.2","s":"Phi=90°","t":142.7,"a":-34.2},{"p":"1.2","s":"Phi=90°","t":147,"a":-33.8},{"p":"1.2","s":"Phi=90°","t":151.7,"a":-32.7},{"p":"1.2","s":"Phi=90°","t":156,"a":-32},{"p":"1.2","s":"Phi=90°","t":160.6,"a":-31.6},{"p":"1.2","s":"Phi=90°","t":165,"a":-32.8},{"p":"1.2","s":"Phi=90°","t":169.5,"a":-34.8},{"p":"1.2","s":"Phi=90°","t":174,"a":-36.8},{"p":"1.2","s":"Phi=90°","t":178.5,"a":-39},
{"p":"1.2","s":"Phi=0°","t":-180,"a":-27.8},{"p":"1.2","s":"Phi=0°","t":-173.9,"a":-27.3},{"p":"1.2","s":"Phi=0°","t":-169,"a":-27},{"p":"1.2","s":"Phi=0°","t":-165,"a":-26.6},{"p":"1.2","s":"Phi=0°","t":-160,"a":-27},{"p":"1.2","s":"Phi=0°","t":-157.8,"a":-27.4},{"p":"1.2","s":"Phi=0°","t":-154,"a":-27.1},{"p":"1.2","s":"Phi=0°","t":-150.7,"a":-26.3},{"p":"1.2","s":"Phi=0°","t":-146,"a":-25.8},{"p":"1.2","s":"Phi=0°","t":-141.7,"a":-25},{"p":"1.2","s":"Phi=0°","t":-136,"a":-26.5},{"p":"1.2","s":"Phi=0°","t":-131,"a":-27.3},{"p":"1.2","s":"Phi=0°","t":-126,"a":-27.6},{"p":"1.2","s":"Phi=0°","t":-123.8,"a":-27.6},{"p":"1.2","s":"Phi=0°","t":-118.4,"a":-26.9},{"p":"1.2","s":"Phi=0°","t":-114,"a":-27.3},{"p":"1.2","s":"Phi=0°","t":-111.3,"a":-28.4},{"p":"1.2","s":"Phi=0°","t":-108.5,"a":-26.5},{"p":"1.2","s":"Phi=0°","t":-105.9,"a":-23.4},{"p":"1.2","s":"Phi=0°","t":-102,"a":-21.5},{"p":"1.2","s":"Phi=0°","t":-99.5,"a":-21},{"p":"1.2","s":"Phi=0°","t":-96,"a":-22.5},{"p":"1.2","s":"Phi=0°","t":-93.4,"a":-25},{"p":"1.2","s":"Phi=0°","t":-90,"a":-28.6},{"p":"1.2","s":"Phi=0°","t":-88,"a":-31.8},{"p":"1.2","s":"Phi=0°","t":-85,"a":-35},{"p":"1.2","s":"Phi=0°","t":-82.6,"a":-36.9},{"p":"1.2","s":"Phi=0°","t":-80,"a":-34.5},{"p":"1.2","s":"Phi=0°","t":-77.3,"a":-31.8},{"p":"1.2","s":"Phi=0°","t":-73,"a":-28.5},{"p":"1.2","s":"Phi=0°","t":-70,"a":-25},{"p":"1.2","s":"Phi=0°","t":-66.5,"a":-20},{"p":"1.2","s":"Phi=0°","t":-63,"a":-14.9},{"p":"1.2","s":"Phi=0°","t":-59,"a":-10},{"p":"1.2","s":"Phi=0°","t":-55.8,"a":-6.9},{"p":"1.2","s":"Phi=0°","t":-51,"a":-5},{"p":"1.2","s":"Phi=0°","t":-46.9,"a":-4.1},{"p":"1.2","s":"Phi=0°","t":-40,"a":-3.7},{"p":"1.2","s":"Phi=0°","t":-34.3,"a":-3.5},{"p":"1.2","s":"Phi=0°","t":-28,"a":-3.7},{"p":"1.2","s":"Phi=0°","t":-23.6,"a":-3.9},{"p":"1.2","s":"Phi=0°","t":-18,"a":-2.8},{"p":"1.2","s":"Phi=0°","t":-12.9,"a":-1.4},{"p":"1.2","s":"Phi=0°","t":-6,"a":-0.3},{"p":"1.2","s":"Phi=0°","t":1.4,"a":0},{"p":"1.2","s":"Phi=0°","t":10,"a":-0.3},{"p":"1.2","s":"Phi=0°","t":19.3,"a":-1.1},{"p":"1.2","s":"Phi=0°","t":26,"a":-2.2},{"p":"1.2","s":"Phi=0°","t":31.8,"a":-3.2},{"p":"1.2","s":"Phi=0°","t":36,"a":-3.3},{"p":"1.2","s":"Phi=0°","t":40.8,"a":-3.2},{"p":"1.2","s":"Phi=0°","t":46,"a":-4.2},{"p":"1.2","s":"Phi=0°","t":51.5,"a":-5.6},{"p":"1.2","s":"Phi=0°","t":56,"a":-8},{"p":"1.2","s":"Phi=0°","t":60.5,"a":-11.5},{"p":"1.2","s":"Phi=0°","t":65.8,"a":-19.1},{"p":"1.2","s":"Phi=0°","t":69.4,"a":-25.9},{"p":"1.2","s":"Phi=0°","t":71.5,"a":-31},{"p":"1.2","s":"Phi=0°","t":73,"a":-36},{"p":"1.2","s":"Phi=0°","t":75,"a":-32.5},{"p":"1.2","s":"Phi=0°","t":76.6,"a":-30.1},{"p":"1.2","s":"Phi=0°","t":80,"a":-28.8},{"p":"1.2","s":"Phi=0°","t":84,"a":-27.4},{"p":"1.2","s":"Phi=0°","t":87.3,"a":-26.6},{"p":"1.2","s":"Phi=0°","t":91,"a":-27},{"p":"1.2","s":"Phi=0°","t":94,"a":-28.2},{"p":"1.2","s":"Phi=0°","t":97,"a":-29},{"p":"1.2","s":"Phi=0°","t":99,"a":-26.5},{"p":"1.2","s":"Phi=0°","t":101.5,"a":-23.4},{"p":"1.2","s":"Phi=0°","t":105,"a":-20.5},{"p":"1.2","s":"Phi=0°","t":108.7,"a":-19.1},{"p":"1.2","s":"Phi=0°","t":111.5,"a":-19.5},{"p":"1.2","s":"Phi=0°","t":114,"a":-20.8},{"p":"1.2","s":"Phi=0°","t":117.7,"a":-25},{"p":"1.2","s":"Phi=0°","t":119.5,"a":-30},{"p":"1.2","s":"Phi=0°","t":121.3,"a":-37.7},{"p":"1.2","s":"Phi=0°","t":122.5,"a":-38.5},{"p":"1.2","s":"Phi=0°","t":124.9,"a":-31},{"p":"1.2","s":"Phi=0°","t":128.4,"a":-25.9},{"p":"1.2","s":"Phi=0°","t":131,"a":-24.2},{"p":"1.2","s":"Phi=0°","t":133.8,"a":-23.5},{"p":"1.2","s":"Phi=0°","t":137,"a":-24.6},{"p":"1.2","s":"Phi=0°","t":140,"a":-26.3},{"p":"1.2","s":"Phi=0°","t":142.7,"a":-27.6},{"p":"1.2","s":"Phi=0°","t":146,"a":-26.9},{"p":"1.2","s":"Phi=0°","t":150,"a":-25.8},{"p":"1.2","s":"Phi=0°","t":153.4,"a":-25.5},{"p":"1.2","s":"Phi=0°","t":157,"a":-26.8},{"p":"1.2","s":"Phi=0°","t":160,"a":-28.5},{"p":"1.2","s":"Phi=0°","t":164.2,"a":-30.5},{"p":"1.2","s":"Phi=0°","t":168,"a":-29.8},{"p":"1.2","s":"Phi=0°","t":171.3,"a":-28.9},{"p":"1.2","s":"Phi=0°","t":175,"a":-28.4},{"p":"1.2","s":"Phi=0°","t":178.5,"a":-28.2}
]
},
"data": {"name": "d"},
"columns": 2,
"spacing": {"row": 183, "column": 100},
"bounds": "flush",
"resolve": {"scale": {"color": "independent"}, "legend": {"color": "independent"}},
"concat": [
  {"width": 373, "height": 237, "title": {"text": "F=0.2GHz", "dx": 5.5},
   "transform": [{"filter": {"field": "p", "equal": "0.2"}}],
   "mark": {"type": "line", "interpolate": "monotone", "strokeWidth": 2.5},
   "encoding": {
    "x": {"field": "t", "type": "quantitative", "scale": {"domain": [-200, 200], "nice": false}, "axis": {"values": [-200, -100, 0, 100, 200], "title": "Theta/Degree"}},
    "y": {"field": "a", "type": "quantitative", "scale": {"domain": [-40, 10], "nice": false, "zero": false}, "axis": {"values": [-40, -30, -20, -10, 0, 10], "title": "Amp（dB）"}},
    "color": {"field": "s", "type": "nominal", "scale": {"domain": ["Phi=90°", "Phi=0°"], "range": ["#4a7ebb", "#f79646"]}, "legend": {"orient": "none", "legendX": 92, "legendY": 306, "direction": "horizontal", "title": null}}
   }},
  {"width": 373, "height": 237, "title": {"text": "F=0.4GHz", "dx": -29.5},
   "transform": [{"filter": {"field": "p", "equal": "0.4"}}],
   "mark": {"type": "line", "interpolate": "monotone", "strokeWidth": 2.5},
   "encoding": {
    "x": {"field": "t", "type": "quantitative", "scale": {"domain": [-200, 200], "nice": false}, "axis": {"values": [-200, -100, 0, 100, 200], "title": "Theta/Degree"}},
    "y": {"field": "a", "type": "quantitative", "scale": {"domain": [-50, 10], "nice": false, "zero": false}, "axis": {"values": [-50, -40, -30, -20, -10, 0, 10], "title": "Amp（dB）"}},
    "color": {"field": "s", "type": "nominal", "scale": {"domain": ["Phi=90°", "Phi=0°"], "range": ["#4a7ebb", "#f79646"]}, "legend": {"orient": "none", "legendX": 93, "legendY": 305, "direction": "horizontal", "title": null}}
   }},
  {"width": 373, "height": 237, "title": {"text": "F=0.6GHz", "dx": -29.5},
   "transform": [{"filter": {"field": "p", "equal": "0.6"}}],
   "mark": {"type": "line", "interpolate": "monotone", "strokeWidth": 2.5},
   "encoding": {
    "x": {"field": "t", "type": "quantitative", "scale": {"domain": [-200, 200], "nice": false}, "axis": {"values": [-200, -100, 0, 100, 200], "title": "Theta/Degree"}},
    "y": {"field": "a", "type": "quantitative", "scale": {"domain": [-50, 10], "nice": false, "zero": false}, "axis": {"values": [-50, -40, -30, -20, -10, 0, 10], "title": "Amp（dB）"}},
    "color": {"field": "s", "type": "nominal", "scale": {"domain": ["Phi=90°", "Phi=0°"], "range": ["#4a7ebb", "#f79646"]}, "legend": {"orient": "none", "legendX": 92, "legendY": 305, "direction": "horizontal", "title": null}}
   }},
  {"width": 373, "height": 237, "title": {"text": "F=0.8GHz", "dx": -29.5},
   "transform": [{"filter": {"field": "p", "equal": "0.8"}}],
   "mark": {"type": "line", "interpolate": "monotone", "strokeWidth": 2.5},
   "encoding": {
    "x": {"field": "t", "type": "quantitative", "scale": {"domain": [-200, 200], "nice": false}, "axis": {"values": [-200, -100, 0, 100, 200], "title": "Theta/Degree"}},
    "y": {"field": "a", "type": "quantitative", "scale": {"domain": [-50, 10], "nice": false, "zero": false}, "axis": {"values": [-50, -40, -30, -20, -10, 0, 10], "title": "Amp（dB）"}},
    "color": {"field": "s", "type": "nominal", "scale": {"domain": ["Phi=90°", "Phi=0°"], "range": ["#4a7ebb", "#f79646"]}, "legend": {"orient": "none", "legendX": 98, "legendY": 305, "direction": "horizontal", "title": null}}
   }},
  {"width": 373, "height": 237, "title": {"text": "F=1GHz", "dx": -29.5},
   "transform": [{"filter": {"field": "p", "equal": "1"}}],
   "mark": {"type": "line", "interpolate": "monotone", "strokeWidth": 2.5},
   "encoding": {
    "x": {"field": "t", "type": "quantitative", "scale": {"domain": [-200, 200], "nice": false}, "axis": {"values": [-200, -100, 0, 100, 200], "title": "Theta/Degree"}},
    "y": {"field": "a", "type": "quantitative", "scale": {"domain": [-50, 10], "nice": false, "zero": false}, "axis": {"values": [-50, -40, -30, -20, -10, 0, 10], "title": "Amp（dB）"}},
    "color": {"field": "s", "type": "nominal", "scale": {"domain": ["Phi=90°", "Phi=0°"], "range": ["#4a7ebb", "#f79646"]}, "legend": {"orient": "none", "legendX": 96, "legendY": 303, "direction": "horizontal", "title": null}}
   }},
  {"width": 373, "height": 237, "title": {"text": "F=1.2GHz", "dx": -29.5},
   "transform": [{"filter": {"field": "p", "equal": "1.2"}}],
   "mark": {"type": "line", "interpolate": "monotone", "strokeWidth": 2.5},
   "encoding": {
    "x": {"field": "t", "type": "quantitative", "scale": {"domain": [-200, 200], "nice": false}, "axis": {"values": [-200, -100, 0, 100, 200], "title": "Theta/Degree"}},
    "y": {"field": "a", "type": "quantitative", "scale": {"domain": [-50, 10], "nice": false, "zero": false}, "axis": {"values": [-50, -40, -30, -20, -10, 0, 10], "title": "Amp（dB）"}},
    "color": {"field": "s", "type": "nominal", "scale": {"domain": ["Phi=90°", "Phi=0°"], "range": ["#4a7ebb", "#f79646"]}, "legend": {"orient": "none", "legendX": 95, "legendY": 303, "direction": "horizontal", "title": null}}
   }}
],
"config": {
 "font": "Noto Sans CJK SC",
 "view": {"stroke": null},
 "axis": {"gridColor": "#d9d9d9", "gridWidth": 1, "domainColor": "#bfbfbf", "domainWidth": 1, "ticks": false, "tickSize": 0, "labelFontSize": 12, "labelColor": "#595959", "titleFontSize": 15, "titleColor": "#595959", "titleFontWeight": "normal", "labelFlush": false, "labelOverlap": false, "labelExpr": "'' + datum.value"},
 "axisX": {"labelPadding": 16, "titlePadding": 9},
 "axisY": {"labelPadding": 11, "titlePadding": 12},
 "title": {"fontSize": 20, "fontWeight": "normal", "color": "#595959", "frame": "group", "offset": 19, "baseline": "alphabetic", "anchor": "middle"},
 "legend": {"symbolType": "stroke", "symbolSize": 1225, "symbolStrokeWidth": 3, "labelFontSize": 13, "labelColor": "#595959", "labelOffset": 5, "columnPadding": 9}
}
}
